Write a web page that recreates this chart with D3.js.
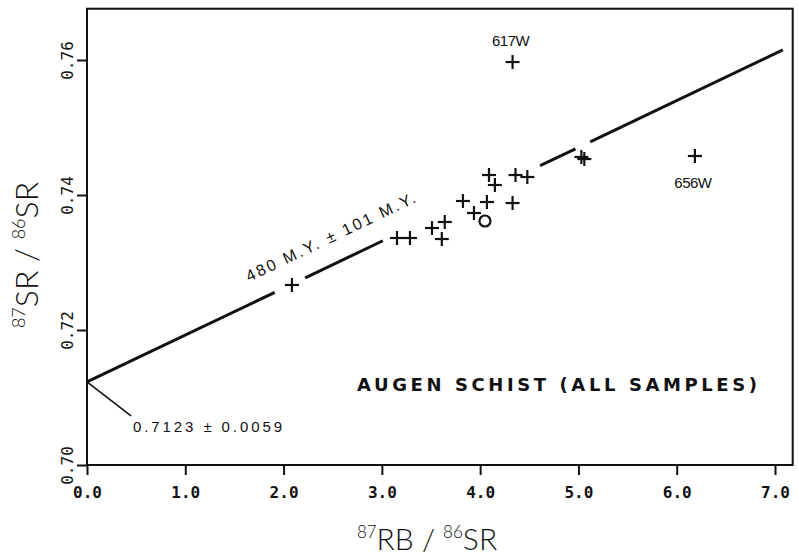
<!DOCTYPE html>
<html>
<head>
<meta charset="utf-8">
<script src="https://cdn.jsdelivr.net/npm/d3@7"></script>
<style>
  body { margin: 0; background: #fff; }
  svg { display: block; }
</style>
</head>
<body>
<svg width="799" height="560"></svg>
<script>
// 87Rb/86Sr vs 87Sr/86Sr, augen schist whole-rock samples
const rbSr = [2.085, 3.154, 3.286, 3.51, 3.64, 3.61, 3.825, 3.937, 4.069, 4.09, 4.15, 4.33, 4.36, 4.48, 5.03, 5.06, 4.33, 6.185];
const srSr = [0.72667, 0.73363, 0.73363, 0.73511, 0.7360, 0.73348, 0.73911, 0.73733, 0.73896, 0.74296, 0.74148, 0.73881, 0.74296, 0.74267, 0.74563, 0.74533, 0.7597, 0.74578];

// the one sample drawn as an open circle
const circleRb = [4.049];
const circleSr = [0.73615];

// labelled outliers
const labelNames = ["617W", "656W"];
const labelRb = [4.33, 6.185];
const labelSr = [0.7597, 0.74578];

// isochron: intercept 0.7123, drawn in pieces around the points and its label
const intercept = 0.7123;
const slope = 0.00695;
const segStart = [0, 2.22, 4.61, 5.12];
const segEnd = [1.91, 3.01, 4.97, 7.08];

const xTicks = [0, 1, 2, 3, 4, 5, 6, 7];
const xTickLabels = ["0.0", "1.0", "2.0", "3.0", "4.0", "5.0", "6.0", "7.0"];
const yTicks = [0.70, 0.72, 0.74, 0.76];
const yTickLabels = ["0.70", "0.72", "0.74", "0.76"];

const svg = d3.select("svg");

const x = d3.scaleLinear().domain([0, 7]).range([87, 775]);
const y = d3.scaleLinear().domain([0.70, 0.76]).range([465, 60]);
const xMax = 7.18, yMax = 0.7676;

// frame
svg.append("rect")
  .attr("x", x(0)).attr("y", y(yMax))
  .attr("width", x(xMax) - x(0)).attr("height", y(0.70) - y(yMax))
  .attr("fill", "none").attr("stroke", "#111").attr("stroke-width", 2);

// axes
const xAxis = d3.axisBottom(x).tickValues(xTicks).tickSize(10).tickFormat((d, i) => xTickLabels[i]);
const gx = svg.append("g").attr("transform", `translate(0,${y(0.70)})`).call(xAxis);
gx.select(".domain").remove();
gx.selectAll(".tick line").attr("stroke", "#111").attr("stroke-width", 2);
gx.selectAll(".tick text")
  .attr("y", 22).attr("dy", "0.71em")
  .attr("fill", "#111")
  .style("font-family", "'DejaVu Sans Mono', monospace")
  .style("font-weight", "bold")
  .style("font-size", "16px");

const yAxis = d3.axisLeft(y).tickValues(yTicks).tickSize(10).tickFormat((d, i) => yTickLabels[i]);
const gy = svg.append("g").attr("transform", `translate(${x(0)},0)`).call(yAxis);
gy.select(".domain").remove();
gy.selectAll(".tick line").attr("stroke", "#111").attr("stroke-width", 2);
gy.selectAll(".tick text")
  .attr("x", null).attr("dy", null)
  .attr("transform", "translate(-14,0) rotate(-90)")
  .attr("text-anchor", "middle")
  .attr("fill", "#111")
  .style("font-family", "'DejaVu Sans Mono', monospace")
  .style("font-size", "16px");

// isochron line pieces
svg.selectAll("line.iso")
  .data(d3.range(segStart.length))
  .enter()
  .append("line")
  .attr("class", "iso")
  .attr("x1", i => x(segStart[i]))
  .attr("y1", i => y(intercept + slope * segStart[i]))
  .attr("x2", i => x(segEnd[i]))
  .attr("y2", i => y(intercept + slope * segEnd[i]))
  .attr("stroke", "#111")
  .attr("stroke-width", 3);

// leader to the intercept label
svg.append("line")
  .attr("x1", x(0)).attr("y1", y(intercept))
  .attr("x2", x(0) + 44).attr("y2", y(intercept) + 34)
  .attr("stroke", "#111").attr("stroke-width", 1.6);

// plus markers
const arm = 7;
const plus = svg.selectAll("g.plus")
  .data(d3.range(rbSr.length))
  .enter()
  .append("g")
  .attr("class", "plus")
  .attr("transform", i => `translate(${x(rbSr[i])},${y(srSr[i])})`);
plus.append("line").attr("x1", -arm).attr("x2", arm).attr("y1", 0).attr("y2", 0);
plus.append("line").attr("x1", 0).attr("x2", 0).attr("y1", -arm).attr("y2", arm);
plus.selectAll("line").attr("stroke", "#111").attr("stroke-width", 2.2);

svg.selectAll("circle.open")
  .data(d3.range(circleRb.length))
  .enter()
  .append("circle")
  .attr("class", "open")
  .attr("cx", i => x(circleRb[i]))
  .attr("cy", i => y(circleSr[i]))
  .attr("r", 5.5)
  .attr("fill", "none")
  .attr("stroke", "#111")
  .attr("stroke-width", 2.2);

// sample labels
const labelDy = [-16, 32];
svg.selectAll("text.sample")
  .data(d3.range(labelNames.length))
  .enter()
  .append("text")
  .attr("class", "sample")
  .attr("x", i => x(labelRb[i]) - 2)
  .attr("y", i => y(labelSr[i]) + labelDy[i])
  .attr("text-anchor", "middle")
  .attr("fill", "#111")
  .style("font-family", "'Liberation Sans', Arial, sans-serif")
  .style("font-size", "15px")
  .style("letter-spacing", "-0.5px")
  .text(i => labelNames[i]);

// age annotation along the line
const angle = -Math.atan(slope * (y(0.70) - y(0.72)) / 0.02 / (x(1) - x(0))) * 180 / Math.PI;
svg.append("text")
  .attr("transform", `translate(249,282) rotate(${angle})`)
  .attr("fill", "#111")
  .style("font-family", "'Liberation Sans', Arial, sans-serif")
  .style("font-size", "16px")
  .attr("textLength", 186)
  .attr("lengthAdjust", "spacing")
  .text("480 M.Y. ± 101 M.Y.");

// intercept annotation
svg.append("text")
  .attr("x", 133).attr("y", 432)
  .attr("fill", "#111")
  .style("font-family", "'Liberation Sans', Arial, sans-serif")
  .style("font-size", "15px")
  .attr("textLength", 149)
  .attr("lengthAdjust", "spacing")
  .text("0.7123 ± 0.0059");

// title inside plot
svg.append("text")
  .attr("x", 357).attr("y", 391)
  .attr("fill", "#111")
  .style("font-family", "'DejaVu Sans', sans-serif")
  .style("font-weight", "bold")
  .style("font-size", "18px")
  .attr("textLength", 400)
  .attr("lengthAdjust", "spacing")
  .text("AUGEN SCHIST (ALL SAMPLES)");

// axis titles
const xTitle = svg.append("text")
  .attr("x", 427).attr("y", 550)
  .attr("text-anchor", "middle")
  .attr("fill", "#111")
  .style("font-family", "Lato, 'Open Sans', sans-serif")
  .style("font-weight", 300)
  .style("font-size", "30px");
xTitle.append("tspan").attr("font-size", "17px").attr("dy", -12).text("87");
xTitle.append("tspan").attr("dy", 12).text("RB / ");
xTitle.append("tspan").attr("font-size", "17px").attr("dy", -12).text("86");
xTitle.append("tspan").attr("dy", 12).text("SR");

const yTitle = svg.append("text")
  .attr("transform", "translate(38,255) rotate(-90)")
  .attr("text-anchor", "middle")
  .attr("fill", "#111")
  .style("font-family", "Lato, 'Open Sans', sans-serif")
  .style("font-weight", 300)
  .style("font-size", "32px");
yTitle.append("tspan").attr("font-size", "18px").attr("dy", -13).text("87");
yTitle.append("tspan").attr("dy", 13).text("SR / ");
yTitle.append("tspan").attr("font-size", "18px").attr("dy", -13).text("86");
yTitle.append("tspan").attr("dy", 13).text("SR");
</script>
</body>
</html>
